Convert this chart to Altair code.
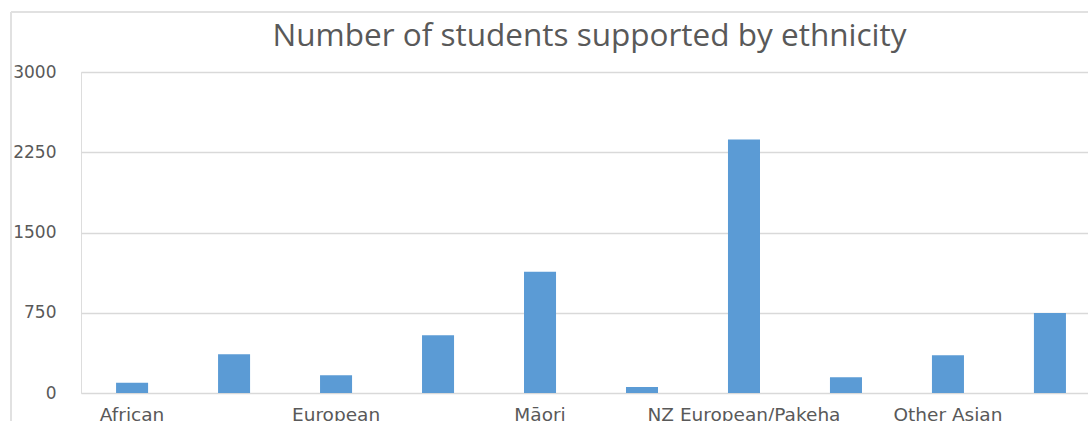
import altair as alt
import pandas as pd

categories = ["African", "Chinese", "European", "Indian", "Māori",
              "Middle Eastern/Latin American", "NZ European/Pakeha", "Other",
              "Other Asian", "Pacific Peoples"]
students = [95, 362, 165, 540, 1134, 56, 2370, 147, 352, 748]
shown_labels = ["African", "European", "Māori", "NZ European/Pakeha", "Other Asian"]
y_ticks = [0, 750, 1500, 2250, 3000]

df = pd.DataFrame({"Ethnicity": categories, "Students": students})

grey_text = "#595959"
grid = "#d9d9d9"

bars = alt.Chart(df).mark_bar(color="#5b9bd5").encode(
    x=alt.X("Ethnicity:N", sort=categories,
            scale=alt.Scale(paddingInner=0.686, paddingOuter=0.28, align=0.614),
            axis=alt.Axis(values=shown_labels, title=None, ticks=False, domain=False,
                          labelAngle=0, labelFont="DejaVu Sans", labelFontSize=18.5,
                          labelColor=grey_text, labelPadding=12, labelBaseline="top",
                          labelOverlap=False, labelLimit=0, grid=False)),
    y=alt.Y("Students:Q", scale=alt.Scale(domain=[0, 3000], nice=False),
            axis=alt.Axis(values=y_ticks, title=None, ticks=False, domain=False,
                          format="d",
                          labelFont="DejaVu Sans", labelFontSize=17, labelColor=grey_text,
                          labelPadding=25, gridColor=grid, gridWidth=1.5)),
)

frame_left = alt.Chart(df).mark_rule(color="#e0e0e0", strokeWidth=1.5).encode(
    x=alt.value(-70), y=alt.value(-60), y2=alt.value(400)
)
frame_top = alt.Chart(df).mark_rule(color="#e0e0e0", strokeWidth=1.5).encode(
    x=alt.value(-70), x2=alt.value(1100), y=alt.value(-60)
)

chart = alt.layer(frame_left, frame_top, bars).properties(
    width=1007,
    height=321,
    autosize=alt.AutoSizeParams(type="none"),
    padding={"left": 81, "top": 72, "right": 0, "bottom": 28},
    title=alt.TitleParams("Number of students supported by ethnicity", font="Open Sans",
                          fontSize=31.5, fontWeight="normal", color=grey_text,
                          offset=10, dx=5, dy=51),
).configure_view(strokeWidth=0, strokeOpacity=0).configure(background="white")

chart.save("out.html", embed_options={"renderer": "svg", "actions": False})
